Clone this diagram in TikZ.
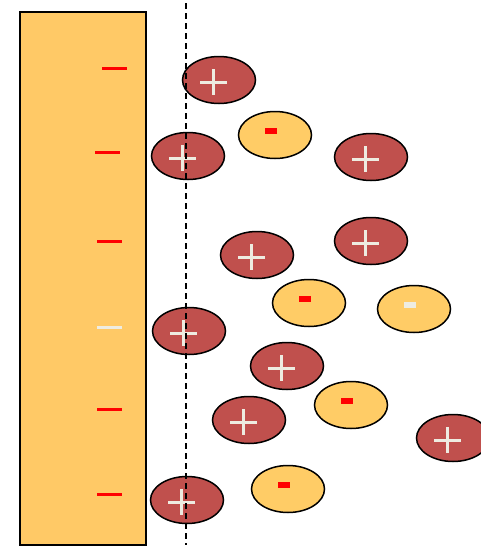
\documentclass[tikz,border=0pt]{standalone}
\usetikzlibrary{shapes.geometric}
\definecolor{plate}{HTML}{FFC966}
\definecolor{ionred}{HTML}{C0504D}
\definecolor{ionyel}{HTML}{FFCC66}
\definecolor{cream}{HTML}{EEECE1}
\definecolor{minusred}{HTML}{FF0000}
\tikzset{
  ionbase/.style={ellipse, draw=black, line width=1.5pt, minimum width=73pt, minimum height=47pt, inner sep=0pt},
  posion/.style={ionbase, fill=ionred, path picture={
     \draw[cream, line width=3pt] ([xshift=-19pt,yshift=-2pt]path picture bounding box.center) -- ++(27pt,0pt);
     \draw[cream, line width=3pt] ([xshift=-5.5pt,yshift=11pt]path picture bounding box.center) -- ++(0pt,-26pt);
  }},
  negion/.style={ionbase, fill=ionyel, path picture={
     \fill[#1] ([xshift=-10.5pt,yshift=1pt]path picture bounding box.center) rectangle ++(12pt,6pt);
  }},
  negion/.default=minusred,
  platemark/.style={line width=3pt, minusred},
}
\begin{document}
\begin{tikzpicture}[x=1pt,y=-1pt]
\useasboundingbox (0,0) rectangle (481,549);
\node[draw=black, line width=1.5pt, fill=plate, minimum width=126pt, minimum height=533pt, inner sep=0pt] (plate) at (83,278.5) {};
% plate charges
\coordinate (m1a) at (102,68); \coordinate (m1b) at (127,68);
\coordinate (m2a) at (95,152); \coordinate (m2b) at (120,152);
\coordinate (m3a) at (97,241); \coordinate (m3b) at (122,241);
\coordinate (m4a) at (97,327); \coordinate (m4b) at (122,327);
\coordinate (m5a) at (97,409); \coordinate (m5b) at (122,409);
\coordinate (m6a) at (97,494); \coordinate (m6b) at (122,494);
\draw[platemark] (m1a) -- (m1b);
\draw[platemark] (m2a) -- (m2b);
\draw[platemark] (m3a) -- (m3b);
\draw[platemark, cream] (m4a) -- (m4b);
\draw[platemark] (m5a) -- (m5b);
\draw[platemark] (m6a) -- (m6b);
% ions
\node[posion] (p1) at (219,80) {};
\node[negion] (n1) at (275,135) {};
\node[posion] (p2) at (188,156) {};
\node[posion] (p3) at (371,157) {};
\node[posion] (p4) at (371,241) {};
\node[posion] (p5) at (257,255) {};
\node[negion] (n2) at (309,303) {};
\node[negion=cream] (n3) at (414,309) {};
\node[posion] (p6) at (189,331) {};
\node[posion] (p7) at (287,366) {};
\node[negion] (n4) at (351,405) {};
\node[posion] (p8) at (249,420) {};
\node[posion] (p9) at (453,438) {};
\node[negion] (n5) at (288,489) {};
\node[posion] (p10) at (187,500) {};
% shear plane
\coordinate (d1) at (186,3);
\coordinate (d2) at (186,545);
\draw[line width=1.8pt, dash pattern=on 6pt off 4pt] (d1) -- (d2);
\end{tikzpicture}
\end{document}
